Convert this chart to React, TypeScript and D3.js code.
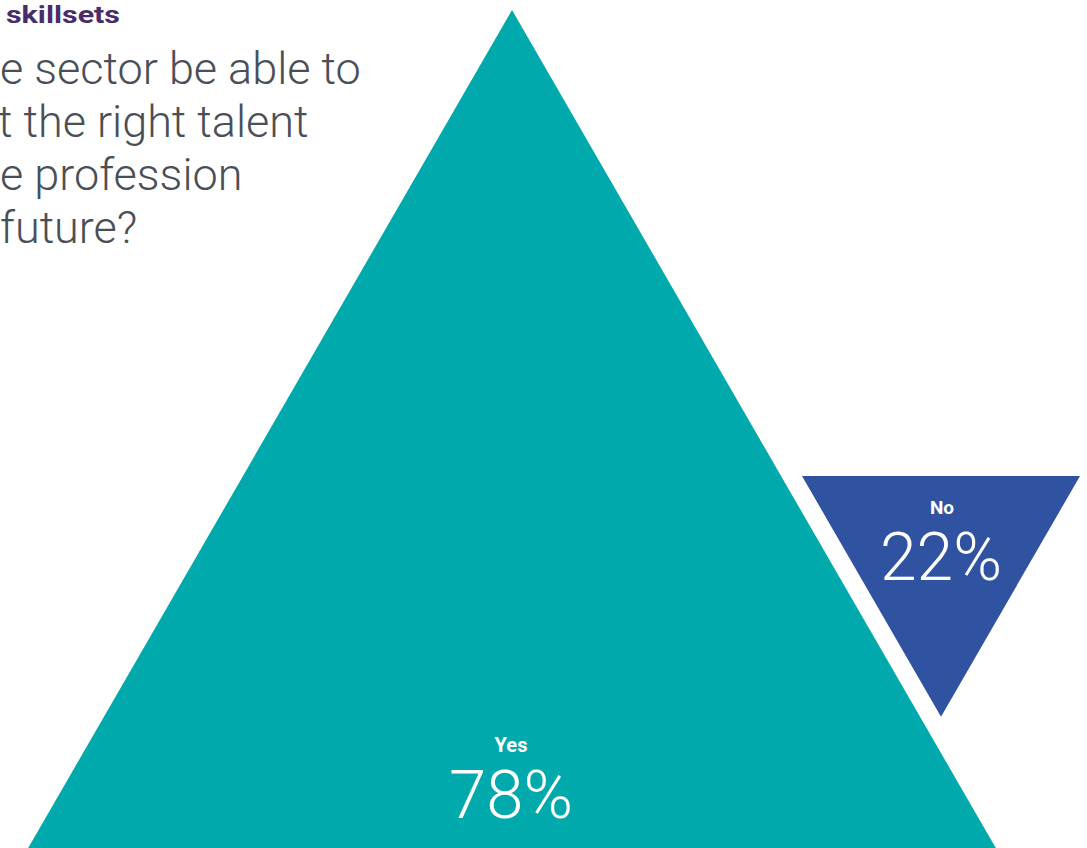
import React from "react";
import * as d3 from "d3";

const categories = ["Yes", "No"];
const values = [78, 22];
const colors = ["#00A9AC", "#2F53A1"];
const heading = "skillsets";
const questionLines = ["e sector be able to", "t the right talent", "e profession", "future?"];

const W = 1087;
const H = 848;

export default function App() {
  const side = d3.scaleLinear().domain([22, 78]).range([278, 968]);
  const h = (s: number) => (s * Math.sqrt(3)) / 2;

  const sBig = side(values[0]);
  const bigApex: [number, number] = [512, 10];
  const bigPts: [number, number][] = [
    bigApex,
    [bigApex[0] + sBig / 2, bigApex[1] + h(sBig)],
    [bigApex[0] - sBig / 2, bigApex[1] + h(sBig)],
  ];

  const sSmall = side(values[1]);
  const smallCx = 941;
  const smallTop = 476;
  const smallPts: [number, number][] = [
    [smallCx - sSmall / 2, smallTop],
    [smallCx + sSmall / 2, smallTop],
    [smallCx, smallTop + h(sSmall)],
  ];

  const line = d3.line();
  const fmt = (v: number) => `${v}%`;

  return (
    <svg
      width={W}
      height={H}
      style={{ position: "absolute", left: 0, top: 0, display: "block" }}
      fontFamily="Roboto, 'Noto Sans', sans-serif"
    >
      <rect width={W} height={H} fill="#ffffff" />
      <path d={line(bigPts)! + "Z"} fill={colors[0]} />
      <path d={line(smallPts)! + "Z"} fill={colors[1]} />

      <text x={6} y={23} fontSize={23} fontWeight={700} fill="#4B2C6B" textLength={114} lengthAdjust="spacingAndGlyphs">
        {heading}
      </text>
      {questionLines.map((t, i) => (
        <text key={i} x={i === 1 ? -2 : 0} y={84 + i * 53} fontSize={45} fontWeight={300} fill="#4A4F57">
          {t}
        </text>
      ))}

      <text x={511} y={752} textAnchor="middle" fontSize={20} fontWeight={700} fill="#fff">
        {categories[0]}
      </text>
      <text x={511} y={818} textAnchor="middle" fontSize={67} fontWeight={300} fill="#fff">
        {fmt(values[0])}
      </text>
      <text x={942} y={514} textAnchor="middle" fontSize={19} fontWeight={700} fill="#fff">
        {categories[1]}
      </text>
      <text x={941} y={580} textAnchor="middle" fontSize={66} fontWeight={300} fill="#fff">
        {fmt(values[1])}
      </text>
    </svg>
  );
}
